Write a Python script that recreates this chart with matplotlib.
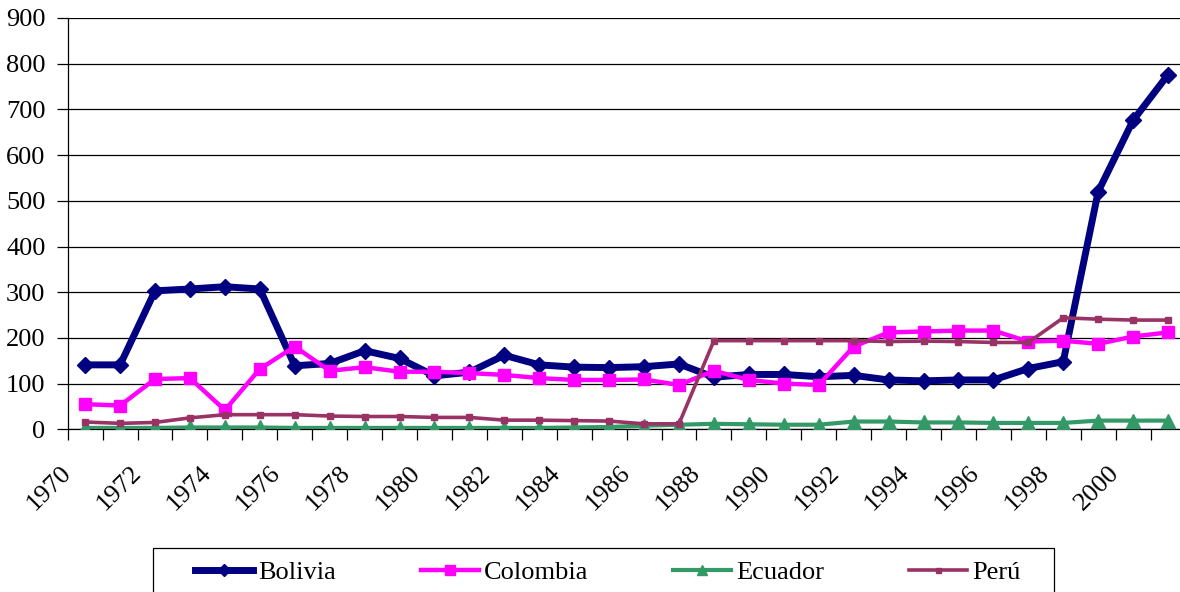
import matplotlib
matplotlib.use("Agg")
import matplotlib.pyplot as plt
from matplotlib.patches import Rectangle

plt.rcParams['font.family'] = ['Liberation Serif', 'DejaVu Serif']

years = list(range(1970, 2002))
bolivia = [141, 141, 303, 307, 312, 307, 139, 144, 172, 155, 117, 125, 162, 141, 136, 135,
           137, 143, 114, 120, 120, 115, 118, 108, 106, 108, 108, 133, 148, 520, 676, 776]
colombia = [55, 52, 110, 112, 42, 132, 181, 128, 136, 126, 126, 123, 119, 112, 108, 108,
            109, 97, 128, 108, 100, 97, 181, 212, 214, 216, 216, 192, 194, 187, 203, 212]
ecuador = [3, 3, 3, 4, 4, 4, 3, 3, 3, 3, 3, 3, 3, 3, 4, 5,
           8, 10, 12, 11, 10, 10, 17, 17, 15, 15, 14, 14, 14, 19, 19, 19]
peru = [16, 13, 15, 25, 32, 32, 32, 29, 28, 28, 26, 26, 20, 20, 19, 18,
        12, 12, 194, 194, 194, 194, 194, 192, 193, 192, 190, 190, 244, 241, 239, 239]
series_names = ['Bolivia', 'Colombia', 'Ecuador', 'Perú']
yticks = list(range(0, 1000, 100))

W, H = 1180, 592
fig = plt.figure(figsize=(W / 100, H / 100), dpi=100)
left, right, top, bottom = 67.7, 1185.5, 18.0, 429.3
ax = fig.add_axes([left / W, 1 - bottom / H, (right - left) / W, (bottom - top) / H])

x = list(range(len(years)))
l1, = ax.plot(x, bolivia, color='#000080', lw=5, marker='D', ms=8, mec='#000080', zorder=3)
l2, = ax.plot(x, colombia, color='#FF00FF', lw=3.2, marker='s', ms=9, mec='#FF00FF', zorder=4)
l3, = ax.plot(x, ecuador, color='#339966', lw=3, marker='^', ms=9.5, mec='#339966', zorder=5)
l4, = ax.plot(x, peru, color='#993366', lw=2.6, marker='s', ms=4.5, mec='#993366', zorder=6)

ax.set_xlim(-0.5, len(years) - 0.5)
ax.set_ylim(0, 900)
ax.set_yticks(yticks)
ax.set_yticklabels([str(v) for v in yticks], fontsize=19)
ax.yaxis.grid(True, color='black', lw=0.9)
ax.set_axisbelow(True)

bounds = [i - 0.5 for i in range(len(years) + 1)]
labels = [str(y) if (y - 1970) % 2 == 0 and y <= 2000 else '' for y in years] + ['']
ax.set_xticks(bounds)
ax.set_xticklabels(labels, fontsize=19)
for t in ax.get_xticklabels():
    t.set_rotation(45)
    t.set_ha('right')
    t.set_va('center')
    t.set_rotation_mode('anchor')
ax.tick_params(axis='x', length=8, width=0.9, pad=21, direction='out')
ax.tick_params(axis='y', length=8, width=0.9, pad=8, direction='out')

for s in ['top', 'right']:
    ax.spines[s].set_visible(False)
for s in ['left', 'bottom']:
    ax.spines[s].set_linewidth(0.9)

fs = 19
leg = fig.legend([l1, l2, l3, l4], series_names, loc='center left',
                 bbox_to_anchor=(195 / W, 1 - 572 / H), ncol=4, frameon=False,
                 fontsize=fs, handlelength=2.2, handletextpad=0.19,
                 columnspacing=3.22, borderpad=0, borderaxespad=0, markerscale=0.8)
fig.add_artist(Rectangle((153.3 / W, 1 - 600 / H), (1054.3 - 153.3) / W, (600 - 548.3) / H,
                         transform=fig.transFigure, fill=False, edgecolor='black', lw=0.9))

fig.savefig('out.png', dpi=100)
